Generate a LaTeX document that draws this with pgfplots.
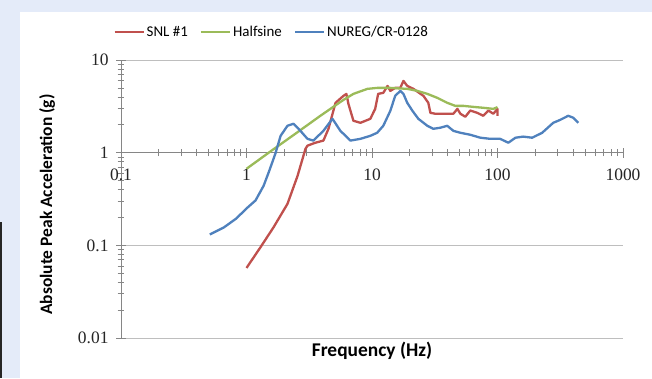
\documentclass[border=0pt]{standalone}
\usepackage{fontspec}
\setmainfont{Carlito}
\newfontfamily\tickfont{Liberation Serif}
\usepackage{pgfplots}
\pgfplotsset{compat=1.18}
\definecolor{bgblue}{RGB}{228,235,249}
\definecolor{axisgray}{RGB}{134,134,134}
\definecolor{gridgray}{RGB}{190,190,190}
\definecolor{snlred}{RGB}{192,80,77}
\definecolor{hsgreen}{RGB}{155,187,89}
\definecolor{nublue}{RGB}{79,129,189}
\begin{document}
\begin{tikzpicture}
\fill[bgblue] (0,0) rectangle (652bp,378bp);
\fill[white] (20bp,0) rectangle (652bp,366bp);
\draw[black!85, line width=1.5bp] (1bp,0) -- (1bp,156bp);
\begin{axis}[
  at={(121bp,40bp)}, anchor=south west,
  scale only axis, width=502bp, height=278bp,
  xmode=log, ymode=log,
  xmin=0.1, xmax=1000, ymin=0.01, ymax=10,
  axis x line=middle, axis y line=left,
  axis line style={-, draw=axisgray, line width=0.8bp},
  hide obscured x ticks=false, hide obscured y ticks=false,
  xtick={0.1,1,10,100,1000}, xticklabels={0.1,1,10,100,1000},
  ytick={0.01,0.1,1,10}, yticklabels={0.01,0.1,1,10},
  /pgf/number format/assume math mode=true,
  tick align=center, major tick length=10bp, minor tick length=7bp,
  every tick/.style={draw=axisgray, line width=0.6bp},
  ymajorgrids, grid style={draw=gridgray, line width=0.9bp},
  ticklabel style={font=\tickfont\fontsize{17.5}{18}\selectfont, text=black!85},
  xticklabel style={anchor=north, yshift=-8bp},
  yticklabel style={anchor=east, xshift=-4bp},
  every axis x label/.style={at={(axis description cs:0.5,0)}, anchor=north, yshift=-1bp},
  every axis y label/.style={at={(axis description cs:-0.147,0.48)}, anchor=center, rotate=90},
  xlabel={\fontsize{19.5}{20}\selectfont\bfseries Frequency (Hz)},
  ylabel={\fontsize{17.5}{18}\selectfont\bfseries Absolute Peak Acceleration (g)},
  legend style={at={(axis description cs:0.30,1.10)}, anchor=center, draw=none, fill=none,
    font=\fontsize{15}{16}\selectfont, legend columns=3,
    /tikz/every even column/.append style={column sep=10bp}},
  legend image code/.code={\draw[#1] (0bp,0bp) -- (29bp,0bp);},
  every axis plot/.append style={line width=2.3bp, line join=round, mark=none},
]
\addplot[snlred] coordinates {
(1.0,0.057)(1.29,0.095)(1.64,0.156)(2.12,0.28)(2.55,0.56)(2.95,1.10)(3.06,1.19)
(3.54,1.28)(4.10,1.35)(4.50,1.81)(5.12,3.45)(5.92,4.10)(6.25,4.31)(6.49,3.36)
(7.11,2.21)(8.09,2.10)(9.70,2.32)(10.6,2.97)(11.2,4.31)(12.3,4.42)(13.3,5.25)
(14.0,4.64)(15.3,5.0)(16.8,5.0)(17.8,5.95)(19.1,5.25)(21.4,4.88)(25.7,4.10)
(28.1,3.45)(29.2,2.69)(32.0,2.63)(37.0,2.63)(44.5,2.63)(47.9,2.97)(50.6,2.63)
(55.4,2.44)(60.7,2.85)(69.0,2.69)(77.1,2.50)(84.5,2.85)(92.6,2.63)(100,2.97)(100,2.5)
};
\addlegendentry{SNL \#1}
\addplot[hsgreen] coordinates {
(1.0,0.67)(1.55,1.03)(2.45,1.60)(3.88,2.50)(5.92,3.71)(7.11,4.31)(9.19,4.88)
(11.0,5.0)(14.0,5.0)(19.1,4.88)(23.0,4.64)(27.6,4.31)(33.2,3.90)(39.8,3.45)
(46.1,3.20)(53.4,3.20)(64.1,3.12)(77.1,3.05)(92.6,2.97)(100,3.1)
};
\addlegendentry{Halfsine}
\addplot[nublue] coordinates {
(0.51,0.131)(0.66,0.156)(0.83,0.195)(1.0,0.25)(1.18,0.305)(1.37,0.44)(1.52,0.64)
(1.70,0.98)(1.87,1.52)(2.12,1.95)(2.37,2.05)(2.69,1.72)(3.06,1.41)(3.41,1.35)
(4.10,1.72)(4.84,2.32)(5.60,1.72)(6.73,1.35)(8.09,1.41)(9.70,1.52)(11.0,1.64)
(12.3,1.95)(14.0,2.83)(15.3,4.10)(16.8,4.64)(17.8,4.31)(19.1,3.45)(21.0,2.83)
(23.4,2.32)(27.6,1.95)(30.8,1.81)(35.1,1.86)(39.8,1.95)(44.5,1.72)(50.6,1.64)
(60.7,1.56)(73.0,1.45)(87.7,1.41)(105,1.41)(122,1.28)(139,1.45)(160,1.49)
(189,1.45)(227,1.64)(278,2.10)(316,2.26)(366,2.50)(402,2.38)(440,2.10)
};
\addlegendentry{NUREG/CR-0128}
\end{axis}
\end{tikzpicture}
\end{document}
